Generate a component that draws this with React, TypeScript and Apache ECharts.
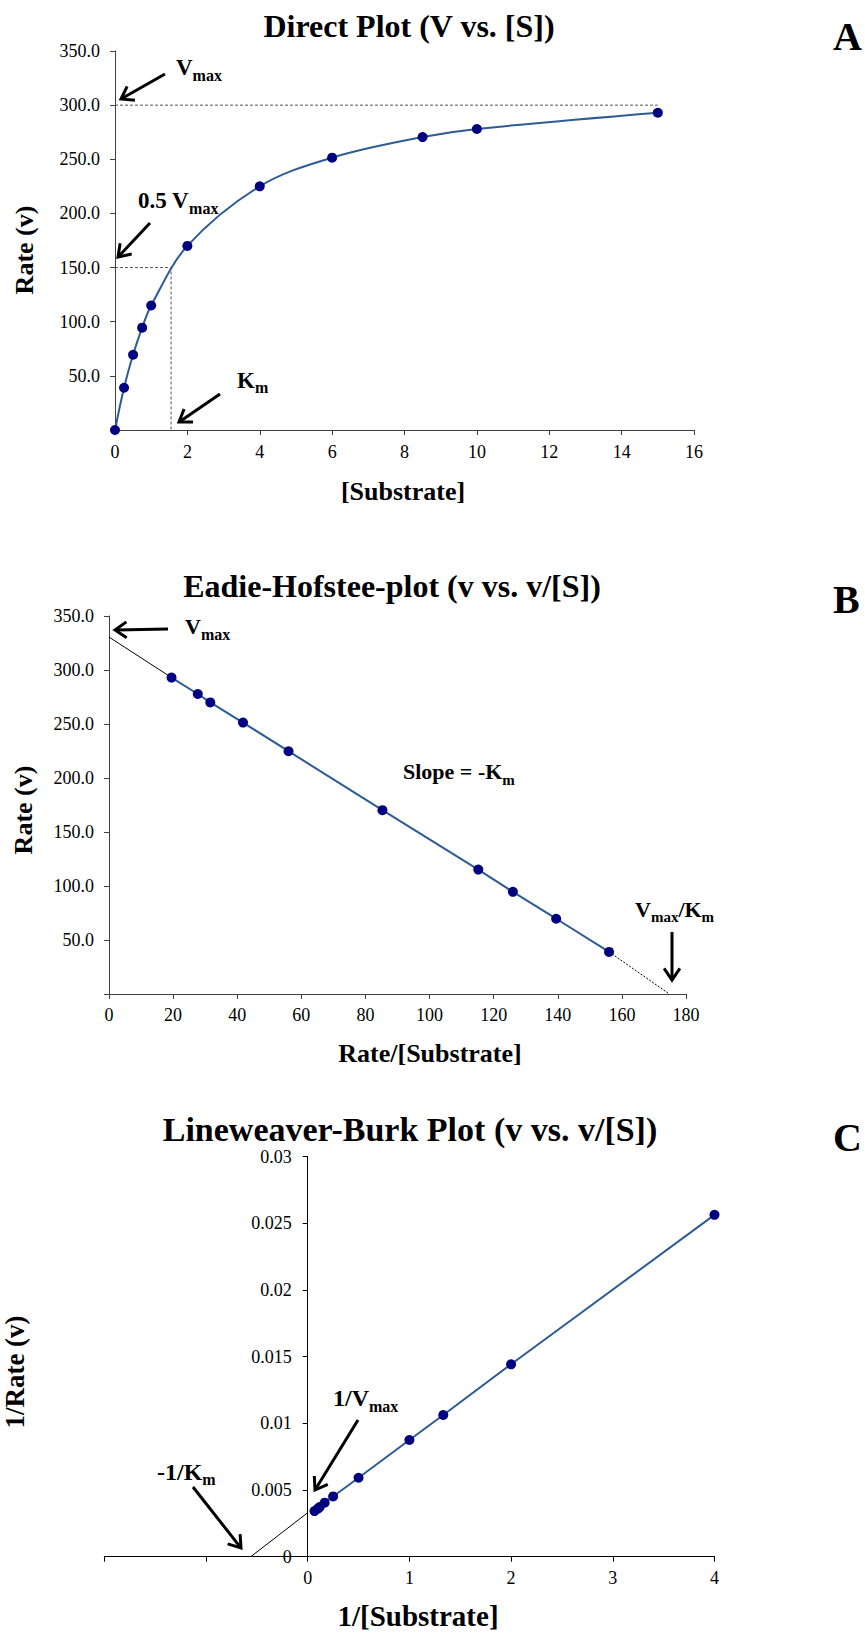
import React, { useEffect, useRef } from 'react';
import * as echarts from 'echarts';

// ---------- data ----------
// Panel A: direct plot
const substrate = [0, 0.25, 0.5, 0.75, 1, 2, 4, 6, 8.5, 10, 15];
const rate = [0, 39, 69.5, 94.5, 115, 170, 225, 251.5, 270.5, 278, 293];
// guide lines in panel A
const vmaxGuide = 300;
const halfVmaxGuide = 150;
const kmGuide = 1.55;
const vmaxGuideEnd = 15;

// Panel B: Eadie-Hofstee (x = v/[S], y = v)
const ehX = [156, 139.5, 126, 115.2, 85.3, 56, 41.8, 31.6, 27.7, 19.5];
const ehY = [39, 69.7, 94.6, 115.2, 170.2, 224.8, 251.3, 270, 277.8, 293];
const ehInterceptY = 330.5;
const ehInterceptX = 174.8;

// Panel C: Lineweaver-Burk (x = 1/[S], y = 1/v)
const lbX = [4, 2, 1.333, 1, 0.5, 0.25, 0.1667, 0.1176, 0.1, 0.0667];
const lbY = [0.02564, 0.01443, 0.01063, 0.00875, 0.00592, 0.00452, 0.00405, 0.00372, 0.0036, 0.00342];
const lbInterceptX = -0.56;
const lbInterceptY = 0.0033;

// tick settings
const aXTicks = { min: 0, max: 16, interval: 2 };
const aYTicks = { min: 0, max: 350, interval: 50 };
const bXTicks = { min: 0, max: 180, interval: 20 };
const bYTicks = { min: 0, max: 350, interval: 50 };
const cXTicks = { min: -2, max: 4, interval: 1 };
const cYTicks = { min: 0, max: 0.03, interval: 0.005 };

const FONT = 'Liberation Serif';
const LINE_BLUE = '#2c5c93';
const MARKER = '#000080';

const canvas = document.createElement('canvas');
const ctx2d = canvas.getContext('2d') as CanvasRenderingContext2D;
function textW(t: string, size: number) {
  ctx2d.font = `bold ${size}px "Liberation Serif"`;
  return ctx2d.measureText(t).width;
}

function txt(x: number, baseline: number, t: string, size: number, align = 'left', rotation = 0): any {
  return {
    type: 'text',
    x,
    y: rotation ? baseline : baseline - 0.3375 * size,
    rotation,
    silent: true,
    style: {
      text: t,
      fill: '#000',
      fontSize: size,
      fontWeight: 'bold',
      fontFamily: FONT,
      align,
      textAlign: align,
      verticalAlign: 'middle',
      textVerticalAlign: 'middle',
    },
  };
}

function richLabel(x: number, baseline: number, parts: [string, boolean][], size: number, subSize: number, drop: number): any[] {
  const out: any[] = [];
  let cx = x;
  for (const [t, isSub] of parts) {
    const s = isSub ? subSize : size;
    out.push(txt(cx, isSub ? baseline + drop : baseline, t, s));
    cx += textW(t, s);
  }
  return out;
}

function arrow(x1: number, y1: number, x2: number, y2: number): any[] {
  const ang = Math.atan2(y2 - y1, x2 - x1);
  const L = 14;
  const sp = 0.6;
  const p1 = [x2 - L * Math.cos(ang - sp), y2 - L * Math.sin(ang - sp)];
  const p2 = [x2 - L * Math.cos(ang + sp), y2 - L * Math.sin(ang + sp)];
  const st = { stroke: '#000', lineWidth: 3, fill: null as any, lineJoin: 'miter' };
  return [
    { type: 'line', silent: true, shape: { x1, y1, x2: x2 - 1.5 * Math.cos(ang), y2: y2 - 1.5 * Math.sin(ang) }, style: st },
    { type: 'polyline', silent: true, shape: { points: [p1, [x2, y2], p2] }, style: st },
  ];
}

function valueAxis(gridIndex: number, ticks: any, lineColor: string, formatter: (v: number) => string, margin: number, extra: any = {}): any {
  const ls = { color: lineColor, width: 1 };
  return {
    type: 'value',
    gridIndex,
    ...ticks,
    axisLine: { show: true, onZero: true, lineStyle: ls },
    axisTick: { show: true, length: 5, lineStyle: ls },
    splitLine: { show: false },
    axisLabel: { fontFamily: FONT, fontSize: 18, color: '#000', margin, formatter },
    ...extra,
  };
}

const fmt1 = (v: number) => (v === 0 ? '' : v.toFixed(1));
const fmtInt = (v: number) => String(Math.round(v));
const fmtCX = (v: number) => (v < 0 ? '' : String(Math.round(v)));
const fmtCY = (v: number) => (v === 0 ? '0' : String(parseFloat(v.toFixed(3))));

// panel C grid geometry
const cGridLeft = 104.3;
const cGridWidth = 610.2;

function buildOption(): any {
  const guideStyle = { color: '#555', width: 1, type: [3, 2] };
  // y axis of panel C sits at x = 0 of its x axis
  const cZeroOffset = -cGridWidth * (0 - cXTicks.min) / (cXTicks.max - cXTicks.min);
  const graphic: any[] = [
    // titles
    txt(409, 37, 'Direct Plot (V vs. [S])', 32, 'center'),
    txt(392, 597, 'Eadie-Hofstee-plot (v vs. v/[S])', 32, 'center'),
    txt(410, 1141, 'Lineweaver-Burk Plot (v vs. v/[S])', 34, 'center'),
    // panel letters
    txt(833, 50, 'A', 40),
    txt(833, 613, 'B', 40),
    txt(833, 1151, 'C', 40),
    // axis titles
    txt(24, 250, 'Rate (v)', 26, 'center', Math.PI / 2),
    txt(403, 500, '[Substrate]', 26, 'center'),
    txt(23, 810, 'Rate (v)', 26, 'center', Math.PI / 2),
    txt(430, 1062, 'Rate/[Substrate]', 26, 'center'),
    txt(15, 1372, '1/Rate (v)', 27, 'center', Math.PI / 2),
    txt(418, 1626, '1/[Substrate]', 29, 'center'),
    // panel A annotations
    ...richLabel(176, 75, [['V', false], ['max', true]], 23, 16, 6),
    ...arrow(165, 74, 121, 99),
    ...richLabel(138, 208, [['0.5 V', false], ['max', true]], 23, 16, 6),
    ...arrow(150, 223, 118, 257),
    ...richLabel(237, 388, [['K', false], ['m', true]], 23, 16, 5),
    ...arrow(220, 394, 179, 422),
    // panel B annotations
    ...richLabel(185, 634, [['V', false], ['max', true]], 22, 16, 6),
    ...arrow(168, 629, 115, 630),
    ...richLabel(403, 779, [['Slope = -K', false], ['m', true]], 22, 15, 6),
    ...richLabel(635, 917, [['V', false], ['max', true], ['/K', false], ['m', true]], 22, 15, 5),
    ...arrow(672, 932, 672, 980),
    // panel C annotations
    ...richLabel(333, 1406, [['1/V', false], ['max', true]], 24, 16, 6),
    ...arrow(358, 1420, 315, 1490),
    ...richLabel(157, 1480, [['-1/K', false], ['m', true]], 24, 16, 5),
    ...arrow(193, 1487, 241, 1548),
  ];

  return {
    animation: false,
    backgroundColor: '#fff',
    textStyle: { fontFamily: FONT },
    grid: [
      { left: 115, top: 51, width: 579, height: 379, outerBoundsMode: 'none' },
      { left: 109, top: 616, width: 577, height: 378, outerBoundsMode: 'none' },
      { left: cGridLeft, top: 1156.7, width: cGridWidth, height: 400, outerBoundsMode: 'none' },
    ],
    xAxis: [
      valueAxis(0, aXTicks, '#404040', fmtInt, 13),
      valueAxis(1, bXTicks, '#404040', fmtInt, 12),
      valueAxis(2, cXTicks, '#000', fmtCX, 12),
    ],
    yAxis: [
      valueAxis(0, aYTicks, '#404040', fmt1, 15),
      valueAxis(1, bYTicks, '#404040', fmt1, 15),
      valueAxis(2, cYTicks, '#000', fmtCY, 16, {
        offset: cZeroOffset,
        axisLine: { show: true, onZero: false, lineStyle: { color: '#000', width: 1 } },
      }),
    ],
    series: [
      // Panel A
      {
        type: 'line', xAxisIndex: 0, yAxisIndex: 0, silent: true, symbol: 'none', z: 1,
        data: [[0, vmaxGuide], [vmaxGuideEnd, vmaxGuide]], lineStyle: guideStyle,
      },
      {
        type: 'line', xAxisIndex: 0, yAxisIndex: 0, silent: true, symbol: 'none', z: 1,
        data: [[0, halfVmaxGuide], [kmGuide, halfVmaxGuide], [kmGuide, 0]], lineStyle: guideStyle,
      },
      {
        type: 'line', xAxisIndex: 0, yAxisIndex: 0, smooth: 0.35, symbol: 'circle', symbolSize: 10, z: 3,
        data: substrate.map((s, i) => [s, rate[i]]),
        itemStyle: { color: MARKER }, lineStyle: { color: LINE_BLUE, width: 2 },
      },
      // Panel B
      {
        type: 'line', xAxisIndex: 1, yAxisIndex: 1, silent: true, symbol: 'none', z: 1,
        data: [[0, ehInterceptY], [ehX[ehX.length - 1], ehY[ehY.length - 1]]], lineStyle: { color: '#000', width: 1 },
      },
      {
        type: 'line', xAxisIndex: 1, yAxisIndex: 1, silent: true, symbol: 'none', z: 1,
        data: [[ehX[0], ehY[0]], [ehInterceptX, 0]], lineStyle: { color: '#000', width: 1, type: [2, 1.5] },
      },
      {
        type: 'line', xAxisIndex: 1, yAxisIndex: 1, symbol: 'circle', symbolSize: 10, z: 3,
        data: ehX.map((x, i) => [x, ehY[i]]),
        itemStyle: { color: MARKER }, lineStyle: { color: LINE_BLUE, width: 2 },
      },
      // Panel C
      {
        type: 'line', xAxisIndex: 2, yAxisIndex: 2, silent: true, symbol: 'none', z: 1,
        data: [[lbInterceptX, 0], [0, lbInterceptY]], lineStyle: { color: '#000', width: 1 },
      },
      {
        type: 'line', xAxisIndex: 2, yAxisIndex: 2, symbol: 'circle', symbolSize: 10, z: 3,
        data: lbX.map((x, i) => [x, lbY[i]]),
        itemStyle: { color: MARKER }, lineStyle: { color: LINE_BLUE, width: 2 },
      },
    ],
    graphic,
  };
}

export default function App() {
  const ref = useRef<HTMLDivElement>(null);
  useEffect(() => {
    if (!ref.current) return;
    const chart = echarts.init(ref.current, undefined, { renderer: 'svg' });
    chart.setOption(buildOption());
    return () => chart.dispose();
  }, []);
  return (
    <div
      ref={ref}
      style={{ position: 'absolute', left: 0, top: 0, width: 865, height: 1633, background: '#fff' }}
    />
  );
}
